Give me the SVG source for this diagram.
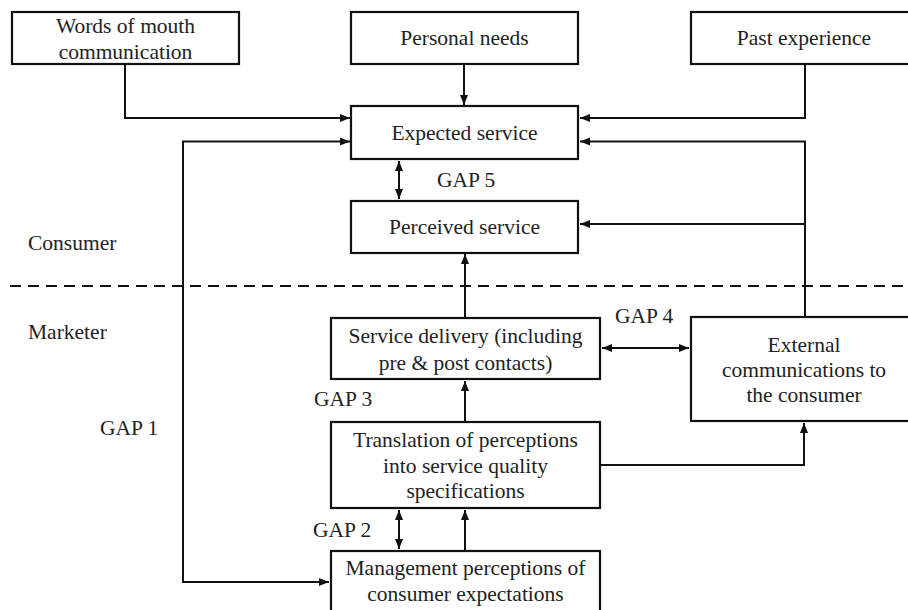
<svg xmlns="http://www.w3.org/2000/svg" width="908" height="610" viewBox="0 0 908 610">
<defs>
<marker id="ah" viewBox="0 0 10 10" refX="10" refY="5" markerWidth="5" markerHeight="5" orient="auto-start-reverse" markerUnits="strokeWidth">
<path d="M0,1 L10,5 L0,9 Z" fill="#111"/>
</marker>
<style>
.box{fill:#fff;stroke:#111;stroke-width:2.2}
.t{font-family:"Liberation Serif","Times New Roman",serif;font-size:21.5px;fill:#222}
.c{text-anchor:middle}
.ln{fill:none;stroke:#111;stroke-width:2}
.ar{marker-end:url(#ah)}
.dar{marker-start:url(#ah);marker-end:url(#ah)}
</style>
</defs>
<rect width="908" height="610" fill="#fff"/>

<g id="connectors">
<path class="ln ar" d="M125,64 V118 H350"/>
<path class="ln ar" d="M464,64 V105"/>
<path class="ln ar" d="M805,64 V118 H580"/>
<path class="ln ar" d="M805,317 V141.5 H580"/>
<path class="ln ar" d="M805,224 H580"/>
<path class="ln dar" d="M399,161 V199"/>
<path class="ln ar" d="M465,317 V254"/>
<path class="ln dar" d="M602,348 H689"/>
<path class="ln ar" d="M465,422 V381"/>
<path class="ln ar" d="M600,465 H804 V423"/>
<path class="ln dar" d="M399,510 V549"/>
<path class="ln ar" d="M465,551 V510"/>
<path class="ln dar" d="M350,141.5 H183 V582 H329"/>
<line x1="10" y1="286" x2="908" y2="286" stroke="#111" stroke-width="2" stroke-dasharray="11,7"/>
</g>

<g id="words-of-mouth">
<rect class="box" x="12" y="12" width="227" height="52"/>
<text class="t c" x="125.5" y="33">Words of mouth</text>
<text class="t c" x="125.5" y="59">communication</text>
</g>
<g id="personal-needs">
<rect class="box" x="351" y="12" width="227" height="52"/>
<text class="t c" x="464.5" y="45">Personal needs</text>
</g>
<g id="past-experience">
<rect class="box" x="691" y="12" width="227" height="52"/>
<text class="t c" x="804" y="45">Past experience</text>
</g>
<g id="expected-service">
<rect class="box" x="351" y="106" width="227" height="53"/>
<text class="t c" x="464.5" y="140">Expected service</text>
</g>
<g id="perceived-service">
<rect class="box" x="351" y="201" width="227" height="52"/>
<text class="t c" x="464.5" y="234">Perceived service</text>
</g>
<g id="service-delivery">
<rect class="box" x="331" y="318" width="269" height="61"/>
<text class="t c" x="465.5" y="343">Service delivery (including</text>
<text class="t c" x="465.5" y="370">pre &amp; post contacts)</text>
</g>
<g id="external-communications">
<rect class="box" x="691" y="317" width="227" height="104"/>
<text class="t c" x="804" y="352">External</text>
<text class="t c" x="804" y="377">communications to</text>
<text class="t c" x="804" y="402">the consumer</text>
</g>
<g id="translation">
<rect class="box" x="331" y="422" width="269" height="86"/>
<text class="t c" x="465.5" y="447">Translation of perceptions</text>
<text class="t c" x="465.5" y="473">into service quality</text>
<text class="t c" x="465.5" y="498">specifications</text>
</g>
<g id="management-perceptions">
<rect class="box" x="331" y="551" width="269" height="70"/>
<text class="t c" x="465.5" y="575">Management perceptions of</text>
<text class="t c" x="465.5" y="601">consumer expectations</text>
</g>

<g id="labels">
<text class="t" x="28" y="250">Consumer</text>
<text class="t" x="28" y="339">Marketer</text>
<text class="t" x="437" y="187">GAP 5</text>
<text class="t" x="615" y="323">GAP 4</text>
<text class="t" x="314" y="406">GAP 3</text>
<text class="t" x="313" y="537">GAP 2</text>
<text class="t" x="100" y="435">GAP 1</text>
</g>
</svg>
